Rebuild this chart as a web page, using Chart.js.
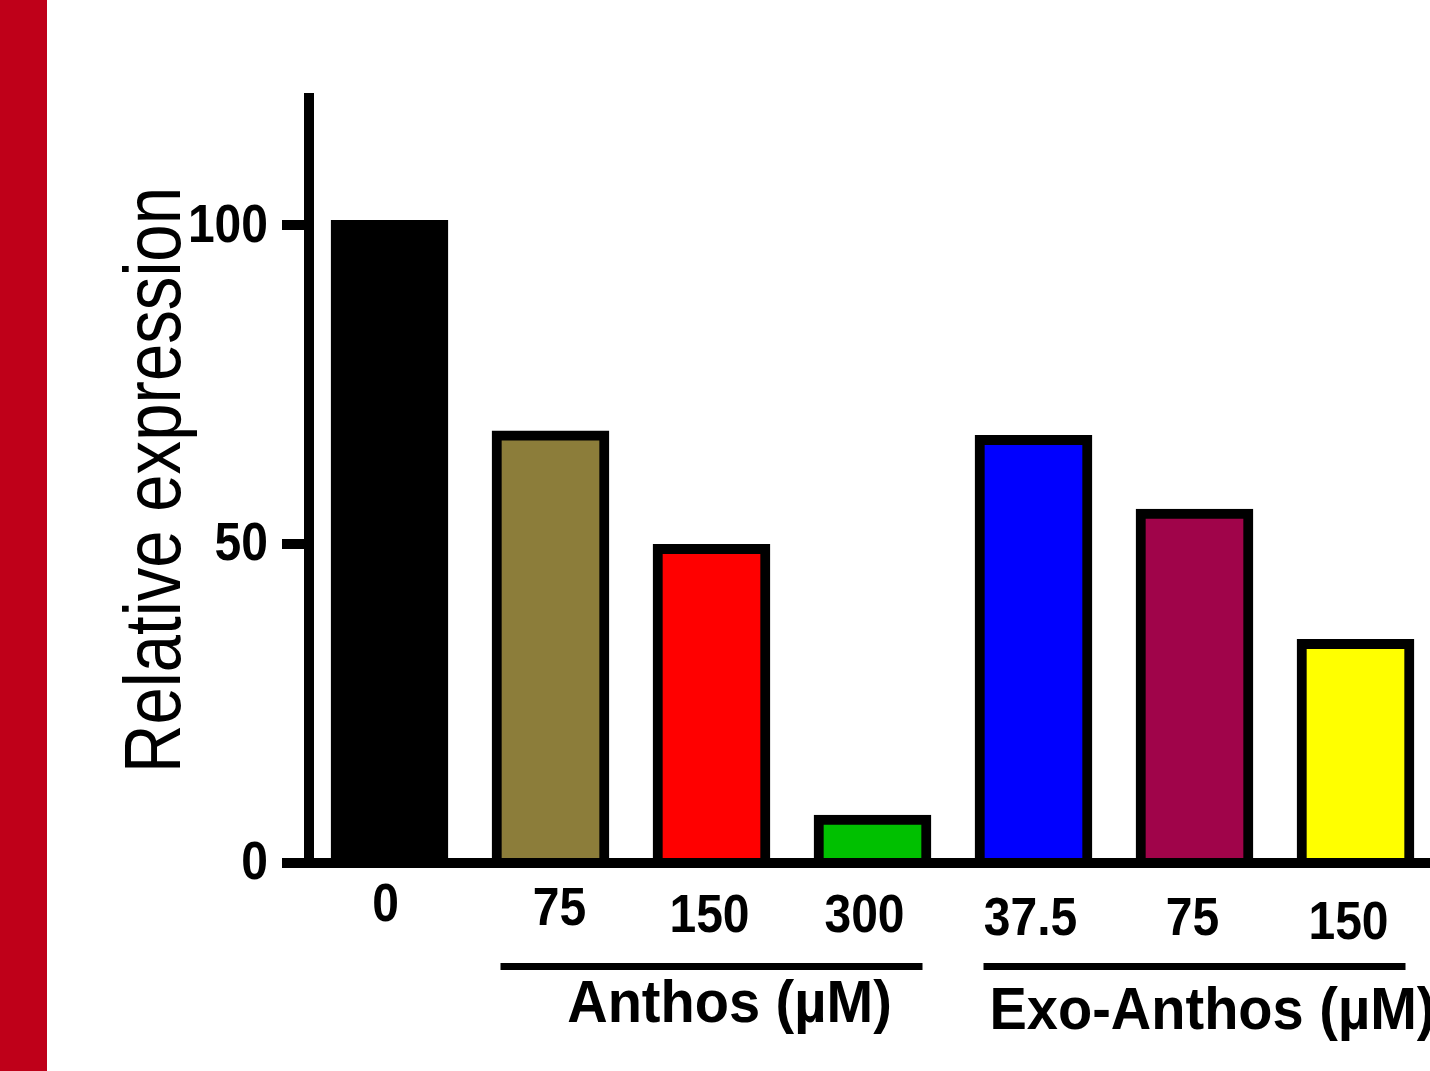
<!DOCTYPE html>
<html>
<head>
<meta charset="utf-8">
<script src="https://cdn.jsdelivr.net/npm/chart.js@4/dist/chart.umd.min.js"></script>
<style>
  html, body { margin:0; padding:0; background:#fff; overflow:hidden; }
  #wrap { position:relative; width:1440px; height:1071px; }
  #strip { position:absolute; left:0; top:0; width:47px; height:1071px; background:#BF0019; }
  canvas { position:absolute; left:0; top:0; }
</style>
</head>
<body>
<div id="wrap"><canvas id="chart" width="1440" height="1071"></canvas><div id="strip"></div></div>
<script>
// data
const categories = ['0', '75', '150', '300', '37.5', '75', '150'];
const values     = [100.8, 67.8, 50.0, 7.5, 67.1, 55.5, 35.1];
const barColors  = ['#000000', '#8C7D3A', '#FF0000', '#00C000', '#0000FF', '#A0044A', '#FFFF00'];
const yTicks     = [0, 50, 100];
const groupNames = ['Anthos (µM)', 'Exo-Anthos (µM)'];
const groupFrom  = [1, 4];
const groupTo    = [3, 6];
const yTitle     = 'Relative expression';

// styling: small nudges so the labels sit like in the original
const FONT = '"Liberation Sans", Arial, sans-serif';
const labelNudge = [[-4, 58], [9, 62], [-2, 69], [-8, 69], [-3, 72], [-2, 72], [-7, 76]];
const groupBase  = [159, 166];

function stretchText(ctx, txt, x, y, sx, sy, align) {
  ctx.save();
  ctx.translate(x, y);
  ctx.scale(sx, sy);
  ctx.textAlign = align;
  ctx.textBaseline = 'alphabetic';
  ctx.fillText(txt, 0, 0);
  ctx.restore();
}

const textPlugin = {
  id: 'texts',
  afterDraw(chart) {
    const { ctx, scales: { x, y } } = chart;
    const base = y.getPixelForValue(0);
    ctx.save();
    ctx.fillStyle = '#000';

    // y tick labels
    ctx.font = 'bold 48px ' + FONT;
    yTicks.forEach(v => stretchText(ctx, String(v), 268, y.getPixelForValue(v) + 16, 1, 1.13, 'right'));

    // category labels
    categories.forEach((c, i) => {
      const [dx, dy] = labelNudge[i];
      stretchText(ctx, c, x.getPixelForValue(i) + dx, base + dy, 1, 1.13, 'center');
    });

    // group brackets and names
    ctx.font = 'bold 56px ' + FONT;
    groupNames.forEach((g, k) => {
      const x0 = x.getPixelForValue(groupFrom[k]) - 50;
      const x1 = x.getPixelForValue(groupTo[k]) + 50;
      ctx.fillRect(x0, base + 100, x1 - x0, 7);
      stretchText(ctx, g, (x0 + x1) / 2 + 18, base + groupBase[k], 1, 1.05, 'center');
    });

    // y axis title, rotated
    ctx.font = '79px ' + FONT;
    ctx.save();
    ctx.translate(180, 480);
    ctx.rotate(-Math.PI / 2);
    ctx.scale(0.85, 1);
    ctx.textAlign = 'center';
    ctx.textBaseline = 'alphabetic';
    ctx.fillText(yTitle, 0, 0);
    ctx.restore();

    ctx.restore();
  }
};

new Chart(document.getElementById('chart'), {
  type: 'bar',
  data: {
    labels: categories,
    datasets: [{
      data: values,
      backgroundColor: barColors,
      borderColor: '#000',
      borderWidth: 10,
      barThickness: 117
    }]
  },
  options: {
    responsive: false,
    animation: false,
    layout: { padding: { top: 98, right: 4, bottom: 0, left: 0 } },
    plugins: { legend: { display: false }, tooltip: { enabled: false } },
    scales: {
      x: {
        grid: { display: false },
        border: { display: true, color: '#000', width: 10 },
        ticks: { display: false },
        afterFit: s => { s.height = 208; }
      },
      y: {
        min: 0, max: 120,
        ticks: { display: false, stepSize: 50 },
        afterBuildTicks: s => { s.ticks = s.ticks.filter(t => yTicks.includes(t.value)); },
        grid: { drawOnChartArea: false, drawTicks: true, tickLength: 27, lineWidth: 10, color: '#000' },
        border: { display: true, color: '#000', width: 10 },
        afterFit: s => { s.width = 309; }
      }
    }
  },
  plugins: [textPlugin]
});
</script>
</body>
</html>
